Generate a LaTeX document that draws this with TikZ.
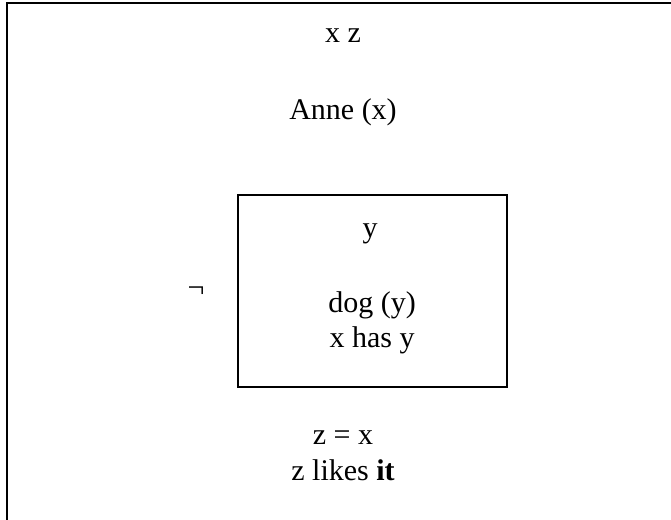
\documentclass[tikz,border=0pt]{standalone}
\usepackage{fontspec}
\setmainfont{Liberation Serif}
\begin{document}
\begin{tikzpicture}[x=1pt,y=-1pt,
  txt/.style={anchor=base,inner sep=0pt,font=\fontsize{30}{35}\selectfont},
  frame/.style={line width=1.5pt},
  boxline/.style={line width=1.2pt}]
\useasboundingbox (0,0) rectangle (671,519);
\coordinate (tl) at (7,3);
\coordinate (tr) at (675,3);
\coordinate (bl) at (7,525);
\draw[frame] (tr) -- (tl) -- (bl);
\node[txt] (xz) at (343,43) {x z};
\node[txt] (anne) at (343,119) {Anne (x)};
\node[boxline,draw,minimum width=269pt,minimum height=192pt,inner sep=0pt] (inner) at (372.5,291) {};
\node[txt] (y) at (370,237) {y};
\node[txt] (neg) at (196,297) {¬};
\node[txt] (dog) at (372,312) {dog (y)};
\node[txt] (has) at (372,347) {x has y};
\node[txt] (zx) at (343,444) {z = x};
\node[txt] (likes) at (343,480) {z likes \textbf{it}};
\end{tikzpicture}
\end{document}
